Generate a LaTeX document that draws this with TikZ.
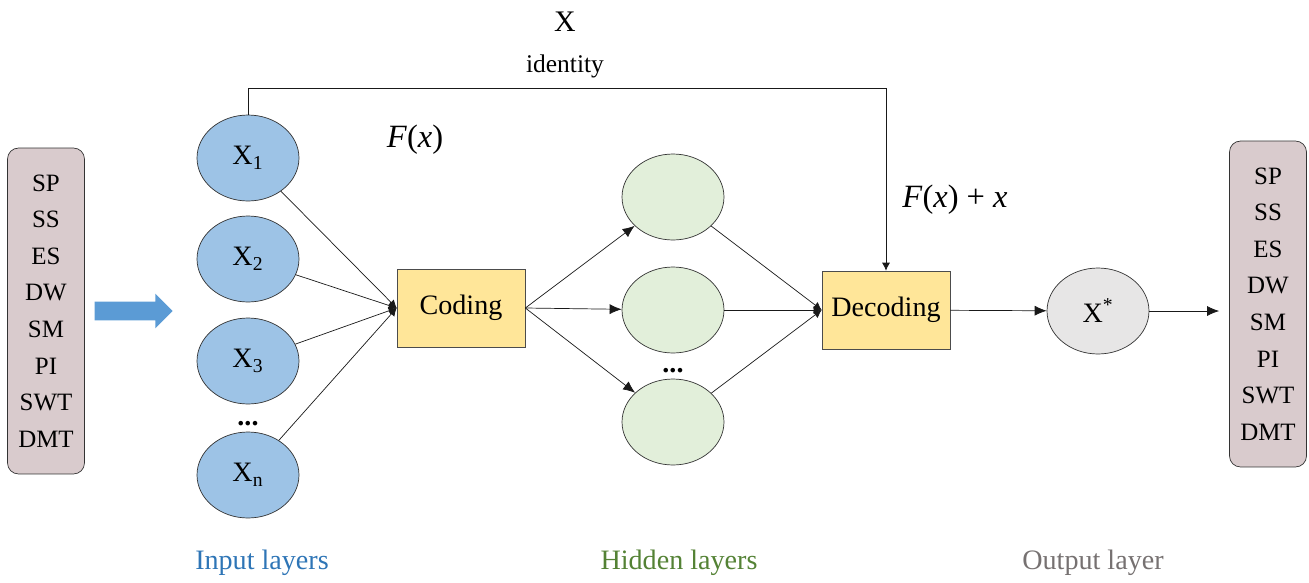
\documentclass[tikz,border=0pt]{standalone}
\usepackage{fontspec}
\setmainfont{Liberation Serif}
\usetikzlibrary{positioning, arrows.meta, shapes.geometric, shapes.arrows}

\definecolor{featpink}{HTML}{D9CBCD}
\definecolor{inblue}{HTML}{9DC3E6}
\definecolor{hidgreen}{HTML}{E2EFDA}
\definecolor{outgray}{HTML}{E7E6E6}
\definecolor{boxyellow}{HTML}{FFE699}
\definecolor{arrowblue}{HTML}{5B9BD5}
\definecolor{txtblue}{HTML}{2E75B6}
\definecolor{txtgreen}{HTML}{548235}
\definecolor{txtgray}{HTML}{767171}

\begin{document}
\begin{tikzpicture}[
        x=0.02cm, y=-0.02cm,
        featbox/.style={
            rectangle,
            rounded corners=0.22cm,
            draw=gray!40!black,
            fill=featpink,
            minimum width=1.54cm,
            minimum height=6.52cm,
            align=center,
            font=\fontsize{14.2}{20.8}\selectfont
        },
        neuron/.style={
            ellipse,
            draw=gray!40!black,
            minimum width=2.04cm,
            minimum height=1.72cm,
            inner sep=0pt,
            font=\fontsize{16}{18}\selectfont
        },
        codebox/.style={
            rectangle,
            draw=gray!60!black,
            fill=boxyellow,
            minimum width=2.56cm,
            minimum height=1.56cm,
            font=\fontsize{16}{18}\selectfont
        },
        arrow/.style={
            -{Latex[length=0.24cm,width=0.2cm]},
            draw=gray!20!black
        },
        link/.style={
            -{Latex[length=0.16cm,width=0.16cm]},
            draw=gray!20!black
        },
        layertext/.style={font=\fontsize{16}{18}\selectfont}
    ]

    \useasboundingbox (0,0) rectangle (1309,582);

    % Entrees et sorties
    \node[featbox] (infeat) at (46,311) {SP\\SS\\ES\\DW\\SM\\PI\\SWT\\DMT};
    \node[featbox] (outfeat) at (1268,304) {SP\\SS\\ES\\DW\\SM\\PI\\SWT\\DMT};
    \node[single arrow, fill=arrowblue, inner xsep=0pt, inner ysep=0.18cm,
          minimum height=1.56cm, minimum width=0.68cm,
          single arrow head extend=0.16cm] (bigarrow) at (129,311) {};

    % Couche d'entree
    \node[neuron, fill=inblue] (X1) at (248,158) {X\textsubscript{1}};
    \node[neuron, fill=inblue] (X2) at (248,259) {X\textsubscript{2}};
    \node[neuron, fill=inblue] (X3) at (248,361) {X\textsubscript{3}};
    \node[neuron, fill=inblue] (Xn) at (248,475) {X\textsubscript{n}};
    \node[layertext, above=0pt of Xn] (indots) {\textbf{...}};

    % Codage / decodage
    \node[codebox] (coding) at (461,308) {Coding};
    \node[codebox] (decoding) at (886,310) {Decoding};

    % Couche cachee
    \node[neuron, fill=hidgreen] (H1) at (673,197) {};
    \node[neuron, fill=hidgreen] (H2) at (673,310) {};
    \node[neuron, fill=hidgreen] (H3) at (673,422) {};
    \node[layertext, above=0pt of H3] (hiddots) {\textbf{...}};

    % Sortie
    \node[neuron, fill=outgray] (xstar) at (1098,311) {X\textsuperscript{*}};

    % Textes
    \node[font=\fontsize{17}{19}\selectfont] (xlabel) at (565,22) {X};
    \node[font=\fontsize{14.5}{17}\selectfont] (idlabel) at (565,66) {identity};
    \node[font=\fontsize{18.5}{21}\selectfont] (fx) at (415,140) {\textit{F}(\textit{x})};
    \node[font=\fontsize{18.5}{21}\selectfont] (fxx) at (955,200) {\textit{F}(\textit{x}) + \textit{x}};
    \node[layertext, text=txtblue] (inlabel) at (262,563) {Input layers};
    \node[layertext, text=txtgreen] (hidlabel) at (679,563) {Hidden layers};
    \node[layertext, text=txtgray] (outlabel) at (1093,563) {Output layer};

    % Fleches
    \foreach \n in {X1,X2,X3,Xn}
        \draw[link] (\n) -- (coding.west);
    \foreach \h in {H1,H2,H3} {
        \draw[arrow] (coding.east) -- (\h);
        \draw[link] (\h) -- (decoding.west);
    }
    \draw[arrow] (decoding) -- (xstar);
    \draw[arrow, shorten >=0.2cm] (xstar.east) -- (xstar.east -| outfeat.west);

    % Connexion identite
    \coordinate (skiptop) at (0,88);
    \draw[link] (X1.north) -- (X1.north |- skiptop) -| (decoding.north);

\end{tikzpicture}
\end{document}
